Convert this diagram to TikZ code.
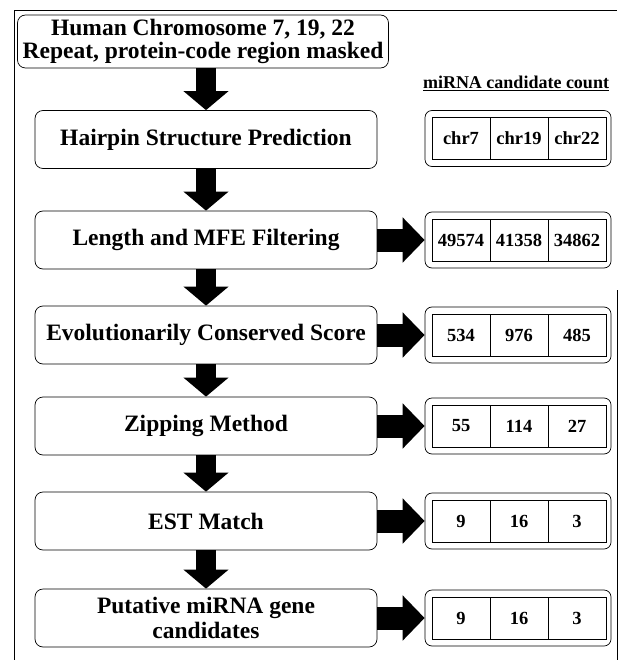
\documentclass[tikz,border=0pt]{standalone}
\usepackage{fontspec}
\setmainfont{Liberation Serif}
\usetikzlibrary{arrows.meta}

\begin{document}
\begin{tikzpicture}[x=1pt,y=-1pt,
  stepbox/.style={draw,rounded corners=8pt,line width=0.7pt,minimum width=342pt,
    minimum height=58pt,inner sep=0pt,align=center,font=\fontsize{23.5}{25}\selectfont\bfseries},
  countbox/.style={draw,rounded corners=7pt,line width=0.7pt,minimum width=186pt,
    minimum height=56pt,inner sep=0pt},
  cell/.style={draw,line width=0.9pt,minimum width=58pt,minimum height=42pt,inner sep=0pt,
    font=\fontsize{18.5}{20}\selectfont\bfseries},
  downarrow/.style={line width=20pt,-{Triangle[width=44pt,length=19pt]}},
  sidearrow/.style={line width=23pt,-{Triangle[width=44pt,length=22pt]}}]
  \useasboundingbox (0,0) rectangle (618,660);
  % frame
  \draw[line width=0.9pt] (14,660) -- (14,10) -- (617,10);
  \draw[line width=0.9pt] (617,290) -- (617,660);
  % pipeline
  \node[stepbox,minimum width=371pt,minimum height=53pt,font=\fontsize{23.5}{22.5}\selectfont\bfseries]
    (chrom) at (203,41.5) {Human Chromosome 7, 19, 22\\Repeat, protein-code region masked};
  \node[stepbox] (hairpin) at (206,139.5) {Hairpin Structure Prediction};
  \node[stepbox] (mfe) at (206,240) {Length and MFE Filtering};
  \node[stepbox] (cons) at (206,335) {Evolutionarily Conserved Score};
  \node[stepbox] (zip) at (206,426) {Zipping Method};
  \node[stepbox] (est) at (206,521) {EST Match};
  \node[stepbox] (put) at (206,618) {Putative miRNA gene\\candidates};
  \draw[downarrow] (chrom.south -| hairpin.north) -- (hairpin.north);
  \draw[downarrow] (hairpin.south) -- (mfe.north);
  \draw[downarrow] (mfe.south) -- (cons.north);
  \draw[downarrow] (cons.south) -- (zip.north);
  \draw[downarrow] (zip.south) -- (est.north);
  \draw[downarrow] (est.south) -- (put.north);
  % counts
  \node[font=\fontsize{18}{20}\selectfont\bfseries] (head) at (516,83) {\underline{miRNA candidate count}};
  \node[countbox] (cnt1) at (518,138.5) {};
  \node[cell] (c1a) at (461,138.5) {chr7};
  \node[cell] (c1b) at (519,138.5) {chr19};
  \node[cell] (c1c) at (577,138.5) {chr22};
  \node[countbox] (cnt2) at (518,240) {};
  \node[cell] (c2a) at (461,240) {49574};
  \node[cell] (c2b) at (519,240) {41358};
  \node[cell] (c2c) at (577,240) {34862};
  \node[countbox] (cnt3) at (518,335) {};
  \node[cell] (c3a) at (461,335) {534};
  \node[cell] (c3b) at (519,335) {976};
  \node[cell] (c3c) at (577,335) {485};
  \node[countbox] (cnt4) at (518,426) {};
  \node[cell] (c4a) at (461,426) {55};
  \node[cell] (c4b) at (519,426) {114};
  \node[cell] (c4c) at (577,426) {27};
  \node[countbox] (cnt5) at (518,521) {};
  \node[cell] (c5a) at (461,521) {9};
  \node[cell] (c5b) at (519,521) {16};
  \node[cell] (c5c) at (577,521) {3};
  \node[countbox] (cnt6) at (518,618) {};
  \node[cell] (c6a) at (461,618) {9};
  \node[cell] (c6b) at (519,618) {16};
  \node[cell] (c6c) at (577,618) {3};
  \draw[sidearrow] (mfe.east) -- (cnt2.west);
  \draw[sidearrow] (cons.east) -- (cnt3.west);
  \draw[sidearrow] (zip.east) -- (cnt4.west);
  \draw[sidearrow] (est.east) -- (cnt5.west);
  \draw[sidearrow] (put.east) -- (cnt6.west);
\end{tikzpicture}
\end{document}
